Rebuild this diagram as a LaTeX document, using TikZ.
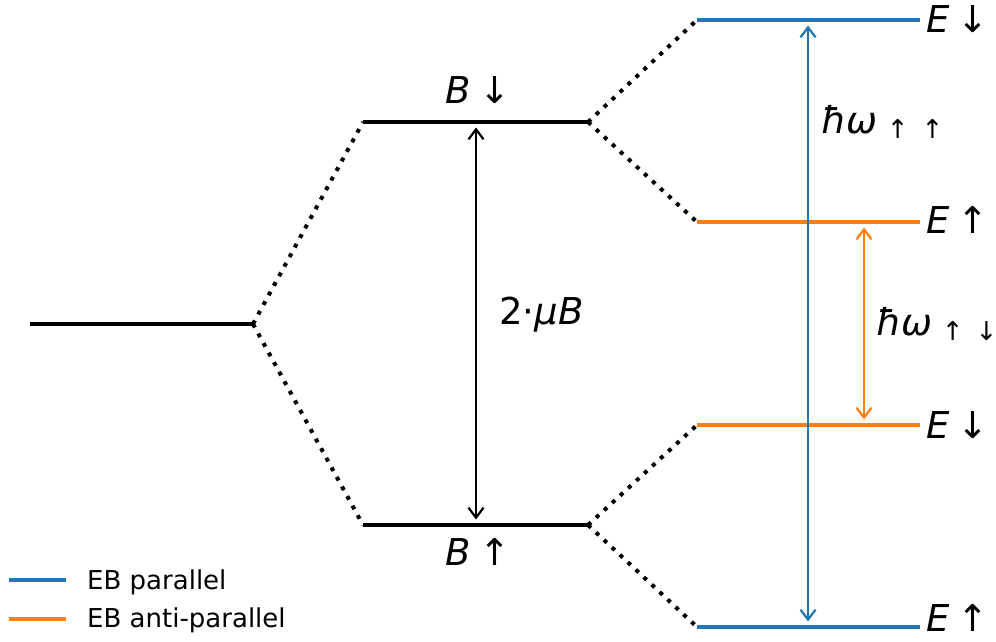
\documentclass[tikz,border=0pt]{standalone}
\usepackage{fontspec}
\setmainfont{DejaVu Sans}
\usetikzlibrary{arrows.meta}
\definecolor{tabblue}{HTML}{1F77B4}
\definecolor{taborange}{HTML}{FF7F0E}
\newcommand{\bigfnt}{\fontsize{37}{40}\selectfont}
\newcommand{\subfnt}{\fontsize{26}{28}\selectfont}
\newcommand{\legfnt}{\fontsize{26}{28}\selectfont}
\tikzset{
  level/.style={line width=3.6pt},
  link/.style={line width=4pt, dash pattern=on 4pt off 6.9pt},
  gap/.style={line width=2.2pt, {Straight Barb[length=10pt,width=15pt]}-{Straight Barb[length=10pt,width=15pt]}, shorten <=5.5pt, shorten >=5.5pt},
  lab/.style={inner sep=0pt, font=\bigfnt},
  leg/.style={inner sep=0pt, font=\legfnt, anchor=base west},
}
\begin{document}
\begin{tikzpicture}[x=1pt,y=-1pt]
\useasboundingbox (0,0) rectangle (996,641);
% level coordinates
\coordinate (L0a) at (30,324);  \coordinate (L0b) at (253,324);
\coordinate (B1a) at (363,122); \coordinate (B1b) at (588,122);
\coordinate (B2a) at (363,525); \coordinate (B2b) at (588,525);
\coordinate (E1a) at (697,20);  \coordinate (E1b) at (920,20);
\coordinate (E2a) at (697,222); \coordinate (E2b) at (920,222);
\coordinate (E3a) at (697,425); \coordinate (E3b) at (920,425);
\coordinate (E4a) at (697,627); \coordinate (E4b) at (920,627);
% arrow end points
\coordinate (Mt) at (476,122); \coordinate (Mb) at (476,525);
\coordinate (Pt) at (808,20);  \coordinate (Pb) at (808,627);
\coordinate (At) at (864,222); \coordinate (Ab) at (864,425);
% levels
\draw[level] (L0a) -- (L0b);
\draw[level] (B1a) -- (B1b);
\draw[level] (B2a) -- (B2b);
\draw[level, tabblue] (E1a) -- (E1b);
\draw[level, taborange] (E2a) -- (E2b);
\draw[level, taborange] (E3a) -- (E3b);
\draw[level, tabblue] (E4a) -- (E4b);
% dotted links
\draw[link] (L0b) -- (B1a);
\draw[link] (L0b) -- (B2a);
\draw[link] (B1b) -- (E1a);
\draw[link] (B1b) -- (E2a);
\draw[link] (B2b) -- (E3a);
\draw[link] (B2b) -- (E4a);
% gap arrows
\draw[gap] (Mt) -- (Mb);
\draw[gap, tabblue] (Pt) -- (Pb);
\draw[gap, taborange] (At) -- (Ab);
% labels
\node[lab, anchor=base] (lB1) at (478,103) {\textit{B}\hspace{9pt}↓};
\node[lab, anchor=base] (lB2) at (478,565) {\textit{B}\hspace{9pt}↑};
\node[lab, anchor=base west] (lE1) at (926,32) {\textit{E}\hspace{8pt}↓};
\node[lab, anchor=base west] (lE2) at (926,233) {\textit{E}\hspace{8pt}↑};
\node[lab, anchor=base west] (lE3) at (926,438) {\textit{E}\hspace{8pt}↓};
\node[lab, anchor=base west] (lE4) at (926,631) {\textit{E}\hspace{8pt}↑};
\node[lab, anchor=base west] (lM) at (499,324) {2·\textit{μB}};
\node[lab, anchor=base west] (lP) at (821,133) {\textit{ħω}\hspace{9pt}{\subfnt\raisebox{-5pt}{↑\hspace{13pt}↑}}};
\node[lab, anchor=base west] (lA) at (876,335) {\textit{ħω}\hspace{9pt}{\subfnt\raisebox{-5pt}{↑\hspace{12pt}↓}}};
% legend
\coordinate (g1a) at (9,580);  \coordinate (g1b) at (66,580);
\coordinate (g2a) at (9,619);  \coordinate (g2b) at (66,619);
\draw[line width=3.6pt, tabblue] (g1a) -- (g1b);
\draw[line width=3.6pt, taborange] (g2a) -- (g2b);
\node[leg] (t1) at (87,589) {EB parallel};
\node[leg] (t2) at (87,627) {EB anti-parallel};
\end{tikzpicture}
\end{document}
